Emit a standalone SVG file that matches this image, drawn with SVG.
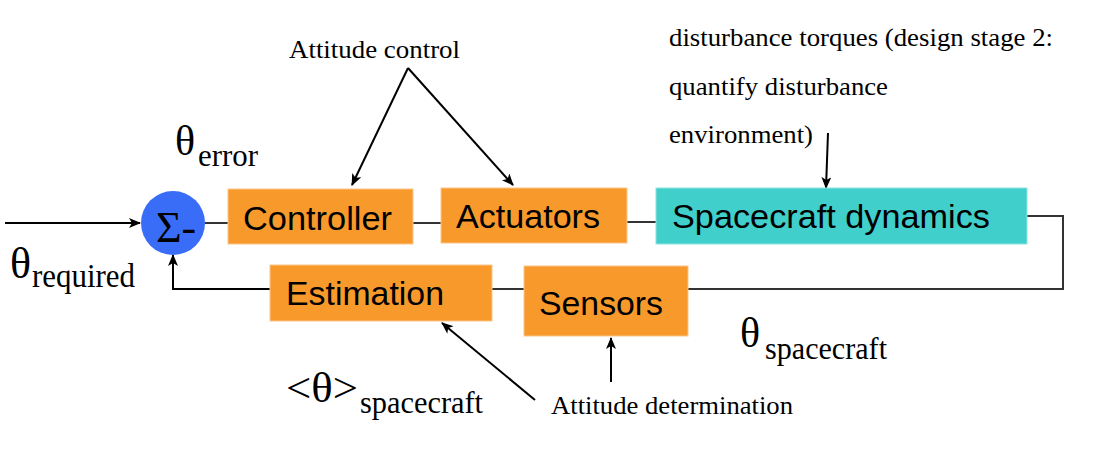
<svg xmlns="http://www.w3.org/2000/svg" width="1093" height="453" viewBox="0 0 1093 453">
<style>
.box{fill:#F89A2B;stroke:#FBC58A;stroke-width:1}
.teal{fill:#40CFCB;stroke:#8FE3E0;stroke-width:1}
.sans{font-family:"Liberation Sans",Arial,sans-serif;font-size:34px;fill:#000}
.serif{font-family:"Liberation Serif","Times New Roman",serif;fill:#000}
.ln{fill:none;stroke:#333;stroke-width:2}
.ar{fill:none;stroke:#000;stroke-width:2;marker-end:url(#ah)}
</style>
<defs>
<marker id="ah" viewBox="0 0 12 10" refX="11" refY="5" markerWidth="12" markerHeight="10" markerUnits="userSpaceOnUse" orient="auto">
<path d="M0,0 L12,5 L0,10 L3,5 z" fill="#000"/>
</marker>
</defs>
<rect width="1093" height="453" fill="#fff"/>
<g id="connectors">
<path class="ar" d="M5,223 H140"/>
<path class="ln" d="M205,223 H228"/>
<path class="ln" d="M413,223 H441"/>
<path class="ln" d="M627,222 H656"/>
<path class="ln" d="M1027,216 H1063 V289 H688"/>
<path class="ln" d="M524,289 H492"/>
<path class="ar" d="M270,289 H173 V255"/>
<path class="ar" d="M408,68 L352,185"/>
<path class="ar" d="M408,68 L513,185"/>
<path class="ar" d="M828,133 L826,188"/>
<path class="ar" d="M535,400 L442,323"/>
<path class="ar" d="M611,382 V338"/>
</g>
<g id="sum">
<circle cx="173" cy="223" r="32" fill="#3A6DF7"/>
<text class="serif" x="156" y="242" font-size="44">Σ-</text>
</g>
<g id="controller">
<rect class="box" x="228" y="189" width="185" height="55"/>
<text class="sans" x="243" y="230" textLength="149" lengthAdjust="spacingAndGlyphs">Controller</text>
</g>
<g id="actuators">
<rect class="box" x="441" y="188" width="186" height="55"/>
<text class="sans" x="456" y="228" textLength="144" lengthAdjust="spacingAndGlyphs">Actuators</text>
</g>
<g id="dynamics">
<rect class="teal" x="656" y="188" width="371" height="56"/>
<text class="sans" x="672" y="228" textLength="318" lengthAdjust="spacingAndGlyphs">Spacecraft dynamics</text>
</g>
<g id="sensors">
<rect class="box" x="524" y="266" width="164" height="70"/>
<text class="sans" x="539" y="315" textLength="124" lengthAdjust="spacingAndGlyphs">Sensors</text>
</g>
<g id="estimation">
<rect class="box" x="270" y="265" width="222" height="56"/>
<text class="sans" x="286" y="305" textLength="158" lengthAdjust="spacingAndGlyphs">Estimation</text>
</g>
<g id="labels">
<text class="serif" x="289" y="58" font-size="26" textLength="171" lengthAdjust="spacingAndGlyphs">Attitude control</text>
<text class="serif" x="175" y="155" font-size="42">θ</text>
<text class="serif" x="198" y="166" font-size="32" textLength="60" lengthAdjust="spacingAndGlyphs">error</text>
<text class="serif" x="10" y="278" font-size="44">θ</text>
<text class="serif" x="32" y="287" font-size="33" textLength="103" lengthAdjust="spacingAndGlyphs">required</text>
<text class="serif" x="286" y="402" font-size="42" textLength="72" lengthAdjust="spacingAndGlyphs">&lt;θ&gt;</text>
<text class="serif" x="360" y="413" font-size="31" textLength="123" lengthAdjust="spacingAndGlyphs">spacecraft</text>
<text class="serif" x="740" y="347" font-size="42">θ</text>
<text class="serif" x="765" y="359" font-size="31" textLength="122" lengthAdjust="spacingAndGlyphs">spacecraft</text>
<text class="serif" x="551" y="414" font-size="26" textLength="242" lengthAdjust="spacingAndGlyphs">Attitude determination</text>
<text class="serif" x="669" y="46" font-size="26" textLength="384" lengthAdjust="spacingAndGlyphs">disturbance torques (design stage 2:</text>
<text class="serif" x="669" y="95" font-size="26" textLength="219" lengthAdjust="spacingAndGlyphs">quantify disturbance</text>
<text class="serif" x="669" y="143" font-size="26" textLength="144" lengthAdjust="spacingAndGlyphs">environment)</text>
</g>
</svg>
